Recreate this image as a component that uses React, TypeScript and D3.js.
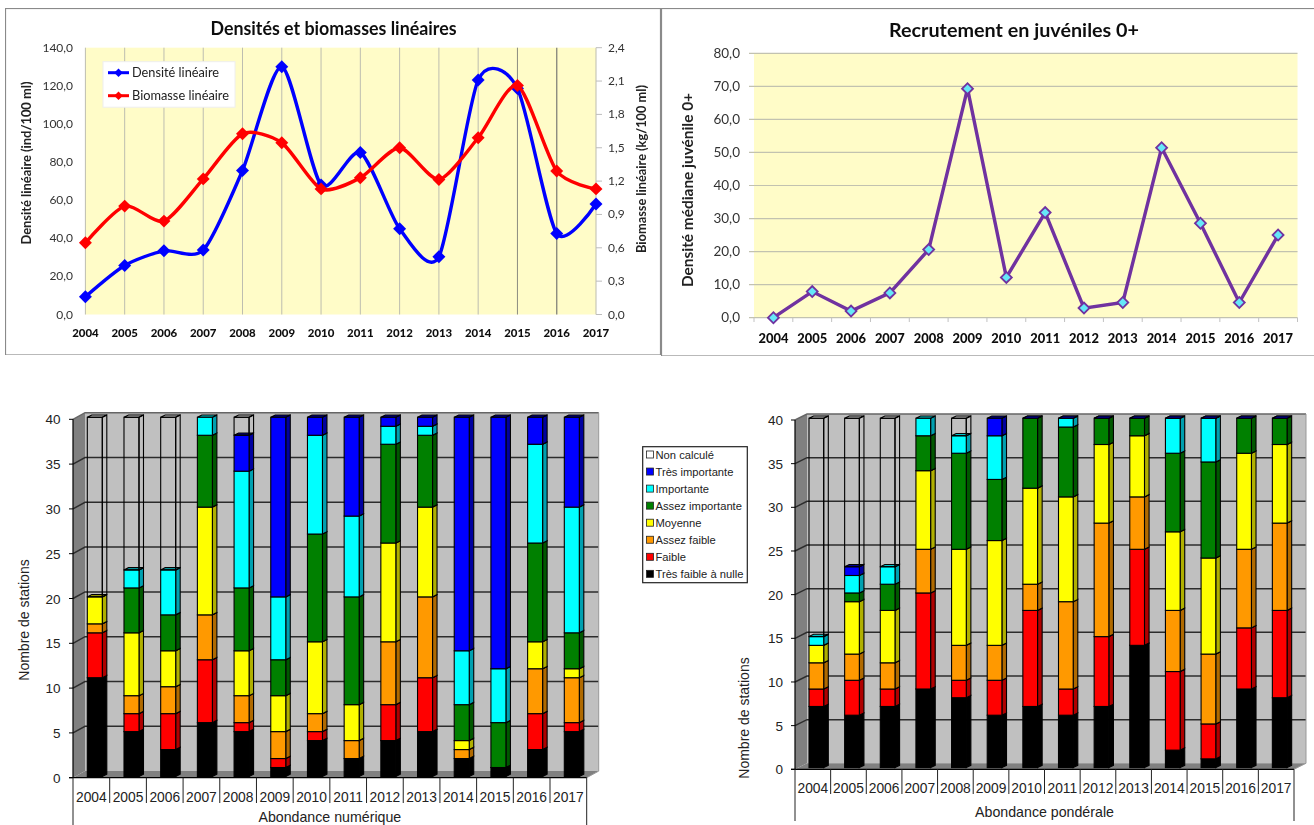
import React from "react";
import * as d3 from "d3";

const years = ["2004","2005","2006","2007","2008","2009","2010","2011","2012","2013","2014","2015","2016","2017"];

const densite = [9.3,25.7,33.4,33.8,75.6,130,68,85,45,30.3,123,118.6,42.5,58];
const biomasse = [0.645,0.975,0.84,1.22,1.625,1.545,1.13,1.23,1.5,1.215,1.59,2.06,1.29,1.13];
const juveniles = [0,7.9,2,7.5,20.6,69.3,12.2,31.8,2.9,4.6,51.4,28.6,4.6,25];

const _ = null;
type V = number | null;
// Abondance numérique (blank = not drawn)
const numTresFaible: V[] = [11,5,3,6,5,1,4,2,4,5,2,1,3,5];
const numFaible: V[] = [5,2,4,7,1,1,1,_,4,6,_,_,4,1];
const numAssezFaible: V[] = [1,2,3,5,3,3,2,2,7,9,1,_,5,5];
const numMoyenne: V[] = [3,7,4,12,5,4,8,4,11,10,1,_,3,1];
const numAssezImportante: V[] = [_,5,4,8,7,4,12,12,11,8,4,5,11,4];
const numImportante: V[] = [_,2,5,2,13,7,11,9,2,1,6,6,11,14];
const numTresImportante: V[] = [_,_,_,_,4,20,2,11,1,1,26,28,3,10];
const numNonCalcule: V[] = [20,17,17,_,2,_,_,_,_,_,_,_,_,_];
// Abondance pondérale
const ponTresFaible: V[] = [7,6,7,9,8,6,7,6,7,14,2,1,9,8];
const ponFaible: V[] = [2,4,2,11,2,4,11,3,8,11,9,4,7,10];
const ponAssezFaible: V[] = [3,3,3,5,4,4,3,10,13,6,7,8,9,10];
const ponMoyenne: V[] = [2,6,6,9,11,12,11,12,9,7,9,11,11,9];
const ponAssezImportante: V[] = [_,1,3,4,11,7,8,8,3,2,9,11,4,3];
const ponImportante: V[] = [1,2,2,2,2,5,_,1,_,_,4,5,_,_];
const ponTresImportante: V[] = [_,1,_,_,_,2,0,0,0,0,0,0,0,0];
const ponNonCalcule: V[] = [25,17,17,_,2,_,_,_,_,_,_,_,_,_];

const classNames = ["Très faible à nulle","Faible","Assez faible","Moyenne","Assez importante","Importante","Très importante","Non calculé"];
const classFront = ["#000000","#FF0000","#FF9900","#FFFF00","#008000","#00FFFF","#0000FF","none"];
const classSide = ["#000000","#B00000","#B06A00","#B0B000","#005800","#00A0B0","#0000A0","none"];
const classTop = ["#000000","#C00000","#C07400","#C0C000","#006000","#00C0C8","#000090","none"];

const numSeries = [numTresFaible,numFaible,numAssezFaible,numMoyenne,numAssezImportante,numImportante,numTresImportante,numNonCalcule];
const ponSeries = [ponTresFaible,ponFaible,ponAssezFaible,ponMoyenne,ponAssezImportante,ponImportante,ponTresImportante,ponNonCalcule];

const CAL = "Lato, 'Open Sans', sans-serif";
const ARIAL = "'Liberation Sans', Arial, sans-serif";
const comma = (v: number) => v.toFixed(1).replace(".", ",");

function Diamond({ x, y, size, fill, stroke, sw }: any) {
  const d = d3.symbol(d3.symbolSquare, size)() as string;
  return <path d={d} transform={`translate(${x},${y}) rotate(45)`} fill={fill} stroke={stroke} strokeWidth={sw} />;
}

function LineChart1() {
  const x = d3.scalePoint<string>().domain(years).range([85.4, 596]);
  const yL = d3.scaleLinear().domain([0, 140]).range([314.5, 47.7]);
  const yR = d3.scaleLinear().domain([0, 2.4]).range([314.5, 47.7]);
  const curve = d3.curveCardinal.tension(0.25);
  const lineD = d3.line<number>().x((_d, i) => x(years[i])!).y((d) => yL(d)).curve(curve);
  const lineB = d3.line<number>().x((_d, i) => x(years[i])!).y((d) => yR(d)).curve(curve);
  const rTicks = [0,0.3,0.6,0.9,1.2,1.5,1.8,2.1,2.4];
  return (
    <g filter="url(#soft)" fontFamily={CAL}>
      <rect x={5.5} y={8.5} width={655} height={346.5} fill="#fff" stroke="#8a8a8a" strokeWidth={1.2} />
      <text x={333.5} y={35} textAnchor="middle" fontWeight={700} fontSize={18} textLength={246} lengthAdjust="spacingAndGlyphs" fill="#111">Densités et biomasses linéaires</text>
      <rect x={85.4} y={47.7} width={510.6} height={266.8} fill="#FFFCC8" />
      {years.map((yr, i) => (
        <line key={yr} x1={x(yr)} x2={x(yr)} y1={47.7} y2={314.5} stroke={i === 11 || i === 12 ? "#8c8c80" : "#bdbdb0"} strokeWidth={i === 12 ? 1.4 : 1} />
      ))}
      {rTicks.map((t) => (
        <g key={t}>
          <line x1={596} x2={602} y1={yR(t)} y2={yR(t)} stroke="#bdbdbd" />
          <text x={608} y={yR(t) + 4} fontSize={12} fill="#333">{comma(t)}</text>
        </g>
      ))}
      {yL.ticks(7).map((t) => (
        <text key={t} x={73} y={yL(t) + 4} textAnchor="end" fontSize={12} fill="#333">{comma(t)}</text>
      ))}
      {years.map((yr) => (
        <text key={yr} x={x(yr)} y={337} textAnchor="middle" fontWeight={900} fontSize={12} fill="#111" textLength={26.5} lengthAdjust="spacingAndGlyphs">{yr}</text>
      ))}
      <text transform="translate(31,163) rotate(-90)" textAnchor="middle" fontWeight={700} fontSize={13} textLength={163} lengthAdjust="spacingAndGlyphs" fill="#222">Densité linéaire (ind/100 ml)</text>
      <text transform="translate(646,169) rotate(-90)" textAnchor="middle" fontWeight={700} fontSize={13} textLength={168} lengthAdjust="spacingAndGlyphs" fill="#222">Biomasse linéaire (kg/100 ml)</text>
      <path d={lineD(densite)!} fill="none" stroke="#0000FF" strokeWidth={3.4} />
      {densite.map((v, i) => <Diamond key={i} x={x(years[i])} y={yL(v)} size={84} fill="#0000FF" />)}
      <path d={lineB(biomasse)!} fill="none" stroke="#FF0000" strokeWidth={3.4} />
      {biomasse.map((v, i) => <Diamond key={i} x={x(years[i])} y={yR(v)} size={84} fill="#FF0000" />)}
      <rect x={103} y={61.7} width={132} height={45.5} fill="#fff" stroke="#eee" />
      {[{ n: "Densité linéaire", c: "#0000FF", yy: 72.7, w: 87 }, { n: "Biomasse linéaire", c: "#FF0000", yy: 95.7, w: 97 }].map((e) => (
        <g key={e.n}>
          <line x1={108} x2={129} y1={e.yy} y2={e.yy} stroke={e.c} strokeWidth={3} />
          <Diamond x={118.5} y={e.yy} size={36} fill={e.c} />
          <text x={132} y={e.yy + 4} fontSize={12.5} fill="#222" textLength={e.w} lengthAdjust="spacingAndGlyphs">{e.n}</text>
        </g>
      ))}
    </g>
  );
}

function LineChart2() {
  const x = d3.scaleBand<string>().domain(years).range([754, 1297.5]);
  const y = d3.scaleLinear().domain([0, 80]).range([317.7, 53.3]);
  const cx = (i: number) => x(years[i])! + x.bandwidth() / 2;
  const line = d3.line<number>().x((_d, i) => cx(i)).y((d) => y(d));
  return (
    <g filter="url(#soft)" fontFamily={CAL}>
      <rect x={661.5} y={8.5} width={660} height={347.5} fill="#fff" stroke="#8a8a8a" strokeWidth={1.2} />
      <text x={1014} y={37} textAnchor="middle" fontWeight={700} fontSize={19.5} textLength={250} lengthAdjust="spacingAndGlyphs" fill="#111">Recrutement en juvéniles 0+</text>
      <rect x={754} y={53.3} width={543.5} height={264.4} fill="#FFFCC8" />
      {y.ticks(8).map((t) => (
        <g key={t}>
          <line x1={749} x2={1297.5} y1={y(t)} y2={y(t)} stroke="#c2c2b0" strokeWidth={1.2} />
          <text x={740} y={y(t) + 4.5} textAnchor="end" fontSize={13.5} fill="#333">{comma(t)}</text>
        </g>
      ))}
      {[...years.map((yr) => x(yr)!), 1297.5].map((p) => (
        <line key={p} x1={p} x2={p} y1={317.7} y2={322} stroke="#c2c2c2" />
      ))}
      {years.map((yr, i) => (
        <text key={yr} x={cx(i)} y={342.5} textAnchor="middle" fontWeight={900} fontSize={13} fill="#111" textLength={30} lengthAdjust="spacingAndGlyphs">{yr}</text>
      ))}
      <text transform="translate(693,190) rotate(-90)" textAnchor="middle" fontWeight={700} fontSize={14.5} textLength={194} lengthAdjust="spacingAndGlyphs" fill="#222">Densité médiane juvénile 0+</text>
      <path d={line(juveniles)!} fill="none" stroke="#7030A0" strokeWidth={3.4} />
      {juveniles.map((v, i) => <Diamond key={i} x={cx(i)} y={y(v)} size={60} fill="#66E8F8" stroke="#7030A0" sw={1.8} />)}
    </g>
  );
}

function Bars3D({ series, g, xTitle }: any) {
  const { x0, x1, yFront0, yFront40, dx, dy, barOff, barW, barDx, barDy, bar0, bar40, labelY, catEnd, outerEnd, titleY, tLabelX, axisTitleX, axisTitleY } = g;
  const band = d3.scaleBand<string>().domain(years).range([x0, x1]);
  const y = d3.scaleLinear().domain([0, 40]).range([yFront0, yFront40]);
  const yb = d3.scaleLinear().domain([0, 40]).range([bar0, bar40]);
  const ticks = d3.range(0, 41, 5);
  return (
    <g fontFamily={ARIAL}>
      <rect x={x0 + dx} y={yFront40 + dy} width={x1 - x0} height={yFront0 - yFront40} fill="#C0C0C0" />
      <polygon points={`${x0},${yFront40} ${x0 + dx},${yFront40 + dy} ${x0 + dx},${yFront0 + dy} ${x0},${yFront0}`} fill="#808080" />
      <polygon points={`${x0},${yFront0} ${x0 + dx},${yFront0 + dy} ${x1 + dx},${yFront0 + dy} ${x1},${yFront0}`} fill="#808080" />
      {ticks.map((t) => (
        <g key={t}>
          {t > 0 && <polyline points={`${x0},${y(t)} ${x0 + dx},${y(t) + dy} ${x1 + dx},${y(t) + dy}`} fill="none" stroke={t === 40 ? "#666" : "#2c2c2c"} strokeWidth={1.5} />}
          <line x1={x0 - 4} x2={x0} y1={y(t)} y2={y(t)} stroke="#000" />
          <text x={tLabelX} y={y(t) + 5} textAnchor="end" fontSize={13.5} fill="#222">{t}</text>
        </g>
      ))}
      <line x1={x1 + dx} x2={x1 + dx} y1={yFront40 + dy} y2={yFront0 + dy} stroke="#999" />
      <line x1={x1} x2={x1 + dx} y1={yFront0} y2={yFront0 + dy} stroke="#999" />
      {years.map((yr, i) => {
        const bx = band(yr)! + barOff;
        let cum = 0;
        return (
          <g key={yr}>
            {series.map((s: V[], k: number) => {
              const v = s[i];
              if (v === null) return null;
              const lo = cum;
              cum += v;
              const yT = yb(cum), yB = yb(lo);
              const st = { stroke: "#000", strokeWidth: 1.1 };
              return (
                <g key={k}>
                  <polygon points={`${bx + barW},${yB} ${bx + barW + barDx},${yB - barDy} ${bx + barW + barDx},${yT - barDy} ${bx + barW},${yT}`} fill={classSide[k]} {...st} />
                  <polygon points={`${bx},${yT} ${bx + barDx},${yT - barDy} ${bx + barW + barDx},${yT - barDy} ${bx + barW},${yT}`} fill={classTop[k]} {...st} />
                  <rect x={bx} y={yT} width={barW} height={yB - yT} fill={classFront[k]} {...st} />
                </g>
              );
            })}
          </g>
        );
      })}
      <line x1={x0} x2={x0} y1={yFront40} y2={yFront0} stroke="#000" strokeWidth={1.2} />
      <line x1={x0 - 4} x2={x1} y1={yFront0} y2={yFront0} stroke="#000" strokeWidth={1.2} />
      {[...years.map((yr) => band(yr)!), x1].map((p, i) => (
        <line key={i} x1={p} x2={p} y1={yFront0} y2={i === 0 || i === 14 ? outerEnd : catEnd} stroke="#222" />
      ))}
      {years.map((yr) => (
        <text key={yr} x={band(yr)! + band.bandwidth() / 2} y={labelY} textAnchor="middle" fontSize={13.8} fill="#222">{yr}</text>
      ))}
      <text x={(x0 + x1) / 2} y={titleY} textAnchor="middle" fontSize={14.2} fill="#222">{xTitle}</text>
      <text transform={`translate(${axisTitleX},${axisTitleY}) rotate(-90)`} textAnchor="middle" fontSize={14} fill="#222">Nombre de stations</text>
    </g>
  );
}

function Legend() {
  const order = d3.range(7, -1, -1);
  return (
    <g fontFamily={ARIAL}>
      <rect x={642.7} y={446.7} width={104.6} height={136} fill="#fff" stroke="#222" strokeWidth={1.2} />
      {order.map((k, i) => (
        <g key={k}>
          <rect x={646.5} y={451 + i * 17.05} width={7} height={7} fill={classFront[k] === "none" ? "#fff" : classFront[k]} stroke="#222" strokeWidth={0.8} />
          <text x={655.5} y={458.8 + i * 17.05} fontSize={11.2} fill="#222">{classNames[k]}</text>
        </g>
      ))}
    </g>
  );
}

const numGeom = { x0: 73, x1: 586.7, yFront0: 777.7, yFront40: 419.3, dx: 12, dy: -6.6, barOff: 14.3, barW: 15, barDx: 4.5, barDy: 2.3, bar0: 776.5, bar40: 417.3, labelY: 802, catEnd: 803, outerEnd: 825, titleY: 821.5, tLabelX: 60.5, axisTitleX: 29, axisTitleY: 620 };
const ponGeom = { x0: 795, x1: 1294, yFront0: 769.3, yFront40: 420, dx: 12, dy: -6, barOff: 14, barW: 14.7, barDx: 4.6, barDy: 2.3, bar0: 767.6, bar40: 418.3, labelY: 793, catEnd: 794, outerEnd: 821, titleY: 817, tLabelX: 783, axisTitleX: 749, axisTitleY: 718 };

export default function App() {
  return (
    <svg width={1314} height={825} style={{ position: "absolute", left: 0, top: 0, background: "#fff" }}>
      <defs>
        <filter id="soft" x="0" y="0" width="100%" height="100%">
          <feGaussianBlur stdDeviation={0.35} />
        </filter>
      </defs>
      <LineChart1 />
      <LineChart2 />
      <Bars3D series={numSeries} g={numGeom} xTitle="Abondance numérique" />
      <Bars3D series={ponSeries} g={ponGeom} xTitle="Abondance pondérale" />
      <Legend />
    </svg>
  );
}
